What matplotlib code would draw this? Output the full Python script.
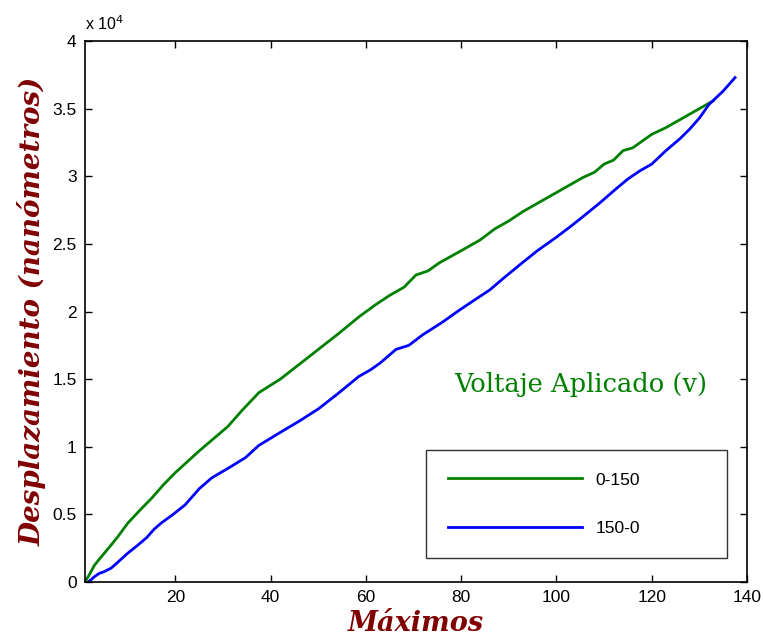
import numpy as np
import matplotlib
matplotlib.use("Agg")
import matplotlib.pyplot as plt
from matplotlib.ticker import FuncFormatter

# curve readings (maximos, nanometros)
x_up = [1, 2, 3, 4.5, 6.5, 8, 10, 12.5, 15, 17.5, 20, 22.5, 25, 28, 31, 34, 37.5, 42,
        46, 50, 54, 58.5, 62, 65, 68, 70.5, 73, 75.4, 80, 84, 87, 90, 93, 97, 100,
        103, 105.5, 108, 110, 112, 114, 116, 118, 120, 123, 125, 127, 129, 131.5, 133]
y_up = [0, 600, 1250, 1900, 2740, 3400, 4360, 5300, 6200, 7200, 8100, 8900, 9700, 10600,
        11500, 12700, 14000, 15000, 16100, 17200, 18300, 19600, 20500, 21200, 21800, 22700,
        23000, 23600, 24500, 25300, 26100, 26700, 27400, 28200, 28800, 29400, 29900, 30300,
        30900, 31200, 31900, 32100, 32600, 33100, 33600, 34000, 34400, 34800, 35300, 35600]

x_down = [1.7, 3, 4, 5, 6.5, 8, 10, 12, 14, 15.5, 17, 19.5, 22, 23.5, 25, 27.6, 31, 34.7,
          37.5, 41.7, 46, 50, 54, 58.5, 61, 63, 66.3, 69, 72, 76, 79.6, 83, 86, 89, 92.8,
          96, 100, 103, 105.5, 109, 112.6, 115, 117.5, 120, 123, 126, 128, 130, 132, 135, 137.5]
y_down = [0, 400, 640, 760, 1030, 1500, 2140, 2700, 3300, 3900, 4360, 5000, 5700, 6300,
          6900, 7700, 8400, 9200, 10100, 11000, 11900, 12800, 13900, 15200, 15700, 16200,
          17200, 17500, 18300, 19200, 20100, 20900, 21600, 22500, 23600, 24500, 25500,
          26300, 27000, 28000, 29100, 29800, 30400, 30900, 31900, 32800, 33500, 34300,
          35300, 36300, 37300]

labels = ["0-150", "150-0"]
yticks = [0, 5000, 10000, 15000, 20000, 25000, 30000, 35000, 40000]
xticks = [20, 40, 60, 80, 100, 120, 140]

plt.rcParams['font.family'] = ['Liberation Sans', 'DejaVu Sans']

fig = plt.figure(figsize=(7.63, 6.41), dpi=100)
ax = fig.add_axes([0.1114, 0.092, 0.8676, 0.844])

ax.plot(x_up, y_up, color='#008000', linewidth=2, label=labels[0])
ax.plot(x_down, y_down, color='#0000ff', linewidth=2, label=labels[1])

ax.set_xlim(1, 140)
ax.set_ylim(0, 40000)
ax.set_xticks(xticks)
ax.set_yticks(yticks)
ax.yaxis.set_major_formatter(FuncFormatter(lambda v, p: "%g" % (v / 10000)))
ax.tick_params(direction='in', length=5, width=1, top=True, right=True, labelsize=12.5, pad=6)
for s in ax.spines.values():
    s.set_linewidth(1.2)

ax.text(0.0, 1.015, "x 10$^4$", transform=ax.transAxes, fontsize=11.5, va='bottom', ha='left')

serif = ['DejaVu Serif']
ax.set_ylabel("Desplazamiento (nanómetros)", fontsize=20, fontweight='bold', fontstyle='italic',
              family=serif, color='#800000', labelpad=4)
ax.set_xlabel("Máximos", fontsize=19.5, fontweight='bold', fontstyle='italic',
              family=serif, color='#800000', labelpad=3)

ax.text(78.5, 14600, "Voltaje Aplicado (v)", fontsize=18.5, family=serif, color='#008000',
        va='center', ha='left')

leg = ax.legend(loc='lower left', bbox_to_anchor=(0.515, 0.044, 0.455, 0.203), mode='expand',
                borderaxespad=0, fontsize=12.5, frameon=True, fancybox=False, edgecolor='black',
                handlelength=7.7, borderpad=1.3, labelspacing=1.9, handletextpad=0.75)
leg.get_frame().set_linewidth(1)

fig.savefig("out.png", dpi=100)
